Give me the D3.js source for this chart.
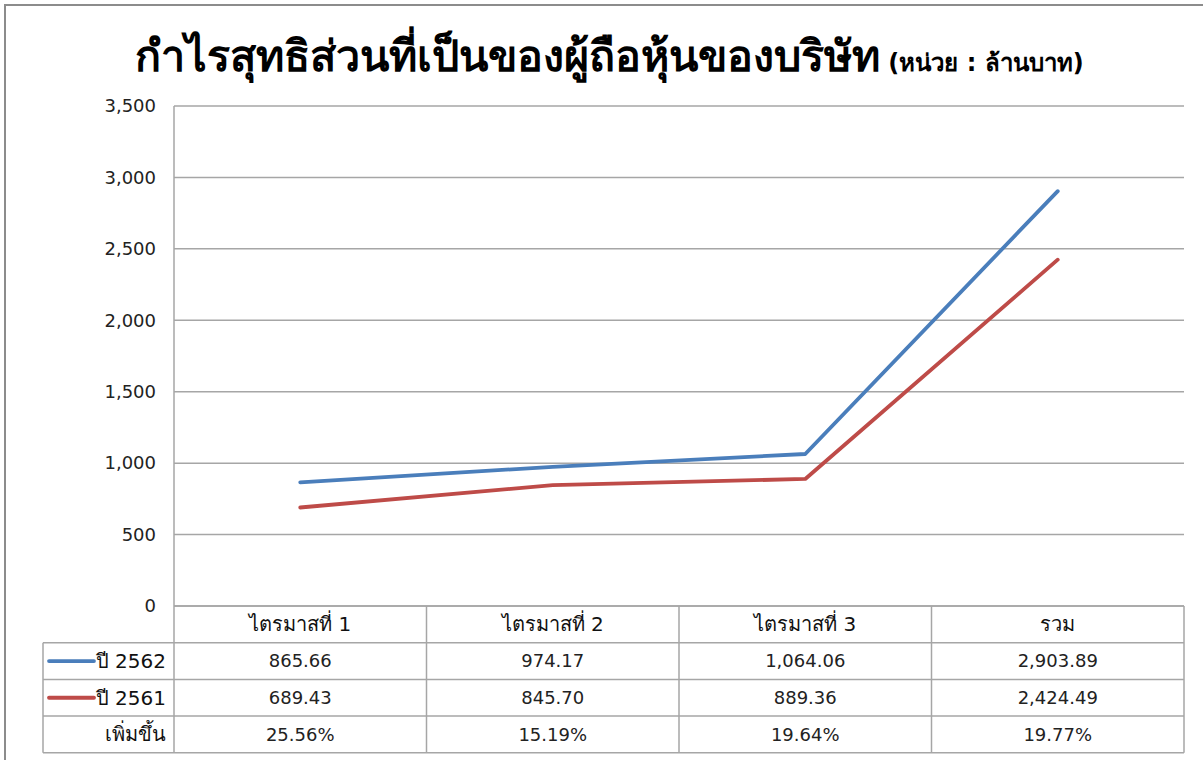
<!DOCTYPE html>
<html>
<head>
<meta charset="utf-8">
<script src="https://cdn.jsdelivr.net/npm/d3@7"></script>
<style>
    body { margin: 0; background: #fff; }
    svg { display: block; font-family: Tahoma, "DejaVu Sans", "Noto Sans", sans-serif; }
    .grid line { stroke: #a6a6a6; stroke-width: 1.5; }
    .tick-label { font-size: 18px; fill: #222; }
    .cell { font-size: 18px; fill: #222; }
    .cat { font-size: 20px; fill: #111; }
    .tbl { stroke: #a6a6a6; stroke-width: 1.5; fill: none; }
</style>
</head>
<body>
<svg id="chart" width="1203" height="760"></svg>
<script>
// data
const categories = ["ไตรมาสที่ 1", "ไตรมาสที่ 2", "ไตรมาสที่ 3", "รวม"];
const values2562 = [865.66, 974.17, 1064.06, 2903.89];
const values2561 = [689.43, 845.70, 889.36, 2424.49];
const growthLabels = ["25.56%", "15.19%", "19.64%", "19.77%"];
const yTicks = [0, 500, 1000, 1500, 2000, 2500, 3000, 3500];
const seriesNames = ["ปี 2562", "ปี 2561"];
const seriesColors = ["#4a7ebb", "#be4b48"];

const svg = d3.select("#chart");

// plot area
const plotLeft = 174, plotRight = 1184, plotTop = 106, plotBottom = 606;
const rowH = 36.7;

const x = d3.scaleBand().domain(categories).range([plotLeft, plotRight]).padding(0);
const y = d3.scaleLinear().domain([0, 3500]).range([plotBottom, plotTop]);
const fmt = d3.format(",.2f");

// outer chart border (runs off the right / bottom edge)
svg.append("rect")
    .attr("x", 5).attr("y", 5)
    .attr("width", 1230).attr("height", 800)
    .attr("fill", "none")
    .attr("stroke", "#8c8c8c")
    .attr("stroke-width", 2);

// title
const title = svg.append("text")
    .attr("x", 135)
    .attr("y", 71)
    .attr("fill", "#000");
title.append("tspan")
    .style("font-size", "43px")
    .style("font-weight", "bold")
    .text("กำไรสุทธิส่วนที่เป็นของผู้ถือหุ้นของบริษัท");
title.append("tspan")
    .style("font-size", "24px")
    .style("font-weight", "bold")
    .text(" (หน่วย : ล้านบาท)");

// gridlines
svg.append("g")
    .attr("class", "grid")
    .selectAll("line").data(yTicks)
    .join("line")
    .attr("x1", plotLeft).attr("x2", plotRight)
    .attr("y1", d => y(d)).attr("y2", d => y(d));

// y axis line
svg.append("line")
    .attr("class", "tbl")
    .attr("x1", plotLeft).attr("x2", plotLeft)
    .attr("y1", plotTop).attr("y2", plotBottom + rowH * 4);

// y tick labels
svg.append("g")
    .selectAll("text").data(yTicks)
    .join("text")
    .attr("class", "tick-label")
    .attr("x", 156)
    .attr("y", d => y(d))
    .attr("dy", "0.35em")
    .attr("text-anchor", "end")
    .text(d => d3.format(",")(d));

// lines
const line = d3.line()
    .x((d, i) => x(categories[i]) + x.bandwidth() / 2)
    .y(d => y(d));

[values2562, values2561].forEach((vals, i) => {
    svg.append("path")
        .datum(vals)
        .attr("fill", "none")
        .attr("stroke", seriesColors[i])
        .attr("stroke-width", 3.8)
        .attr("stroke-linejoin", "round")
        .attr("stroke-linecap", "round")
        .attr("d", line);
});

// data table
const tableLeft = 43;
const tbl = svg.append("g");

// horizontal rules
[0, 1, 2, 3, 4].forEach(r => {
    tbl.append("line")
        .attr("class", "tbl")
        .attr("x1", r === 0 ? plotLeft : tableLeft)
        .attr("x2", plotRight)
        .attr("y1", plotBottom + r * rowH)
        .attr("y2", plotBottom + r * rowH);
});
// vertical rules
categories.forEach(c => {
    tbl.append("line")
        .attr("class", "tbl")
        .attr("x1", x(c) + x.bandwidth()).attr("x2", x(c) + x.bandwidth())
        .attr("y1", plotBottom).attr("y2", plotBottom + rowH * 4);
});
tbl.append("line")
    .attr("class", "tbl")
    .attr("x1", tableLeft).attr("x2", tableLeft)
    .attr("y1", plotBottom + rowH).attr("y2", plotBottom + rowH * 4);

// header
tbl.selectAll(".cat").data(categories)
    .join("text")
    .attr("class", "cat")
    .attr("x", d => x(d) + x.bandwidth() / 2)
    .attr("y", plotBottom + rowH / 2)
    .attr("dy", "0.35em")
    .attr("text-anchor", "middle")
    .text(d => d);

// rows
const rows = [
    values2562.map(fmt),
    values2561.map(fmt),
    growthLabels
];
const rowNames = [seriesNames[0], seriesNames[1], "เพิ่มขึ้น"];

rows.forEach((vals, r) => {
    const cy = plotBottom + rowH * (r + 1) + rowH / 2;
    tbl.append("g").selectAll("text").data(vals)
        .join("text")
        .attr("class", "cell")
        .attr("x", (d, i) => x(categories[i]) + x.bandwidth() / 2)
        .attr("y", cy)
        .attr("dy", "0.35em")
        .attr("text-anchor", "middle")
        .text(d => d);

    tbl.append("text")
        .attr("class", "cat")
        .attr("x", 166)
        .attr("y", cy)
        .attr("dy", "0.35em")
        .attr("text-anchor", "end")
        .text(rowNames[r]);

    if (r < 2) {
        tbl.append("line")
            .attr("x1", 49).attr("x2", 94)
            .attr("y1", cy).attr("y2", cy)
            .attr("stroke", seriesColors[r])
            .attr("stroke-width", 3.8)
            .attr("stroke-linecap", "round");
    }
});
</script>
</body>
</html>
